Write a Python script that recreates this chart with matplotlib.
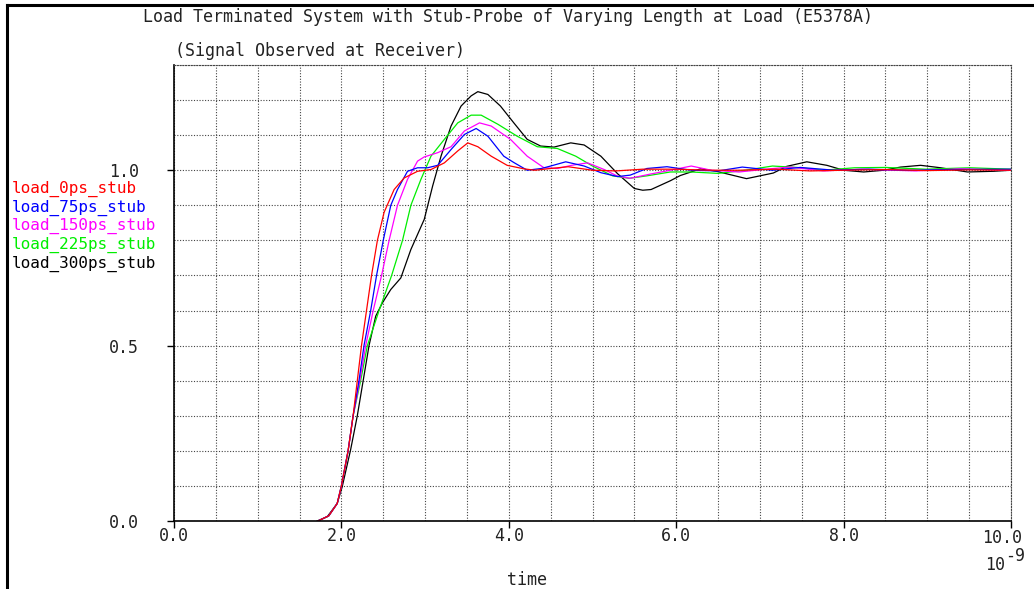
import numpy as np
import matplotlib.pyplot as plt
from matplotlib.ticker import MultipleLocator, FuncFormatter, FormatStrFormatter
from matplotlib.lines import Line2D

plt.rcParams['font.family'] = ['DejaVu Sans Mono']
plt.rcParams['font.size'] = 12

# time in ns (x 1e-9), voltage normalized
t_0ps = [1.72, 1.85, 1.95, 2.0, 2.08, 2.14, 2.19, 2.24, 2.30, 2.36, 2.43, 2.51, 2.63, 2.75,
         2.91, 3.07, 3.23, 3.39, 3.51, 3.63, 3.79, 3.98, 4.18, 4.31, 4.50, 4.71, 5.0, 5.28, 5.6,
         6.0, 6.4, 6.75, 7.2, 7.6, 8.0, 8.5, 9.0, 9.5, 10.0]
v_0ps = [0.0, 0.015, 0.05, 0.1, 0.2, 0.3, 0.4, 0.5, 0.6, 0.7, 0.8, 0.88, 0.945, 0.978,
         0.997, 1.002, 1.021, 1.055, 1.078, 1.067, 1.04, 1.014, 1.004, 1.0, 1.005, 1.01, 1.0, 0.998, 1.003,
         1.003, 1.0, 1.0, 1.003, 0.998, 1.0, 1.002, 0.999, 1.001, 1.0]

t_75ps = [1.72, 1.85, 1.95, 2.0, 2.08, 2.14, 2.21, 2.27, 2.35, 2.42, 2.50, 2.59, 2.67, 2.79,
          2.91, 3.03, 3.15, 3.31, 3.47, 3.61, 3.75, 3.94, 4.06, 4.22, 4.39, 4.50, 4.68, 4.9, 5.1,
          5.3, 5.45, 5.65, 5.89, 6.18, 6.5, 6.79, 7.15, 7.48, 7.89, 8.3, 8.78, 9.3, 10.0]
v_75ps = [0.0, 0.015, 0.05, 0.1, 0.2, 0.3, 0.4, 0.5, 0.6, 0.7, 0.8, 0.9, 0.945, 0.997,
          1.007, 1.007, 1.014, 1.059, 1.102, 1.119, 1.097, 1.04, 1.022, 1.0, 1.005, 1.012, 1.024, 1.012, 0.993,
          0.982, 0.986, 1.005, 1.01, 1.0, 0.998, 1.009, 1.0, 1.008, 1.0, 1.003, 1.0, 1.002, 1.003]

t_150ps = [1.72, 1.85, 1.95, 2.0, 2.08, 2.14, 2.22, 2.29, 2.38, 2.48, 2.57, 2.67, 2.79, 2.91,
           2.99, 3.15, 3.31, 3.47, 3.65, 3.79, 4.02, 4.22, 4.42, 4.58, 4.75, 4.94, 5.14, 5.3, 5.45,
           5.69, 5.93, 6.18, 6.42, 6.75, 7.07, 7.36, 7.76, 8.21, 8.86, 9.39, 10.0]
v_150ps = [0.0, 0.015, 0.05, 0.1, 0.2, 0.3, 0.4, 0.5, 0.6, 0.7, 0.8, 0.9, 0.974, 1.026,
           1.038, 1.05, 1.067, 1.112, 1.135, 1.126, 1.088, 1.04, 1.007, 1.005, 1.014, 1.021, 1.002, 0.983, 0.977,
           0.989, 1.0, 1.012, 1.0, 0.995, 1.003, 1.009, 0.998, 1.003, 0.998, 1.004, 1.0]

t_225ps = [1.72, 1.85, 1.95, 2.0, 2.08, 2.14, 2.23, 2.31, 2.45, 2.60, 2.73, 2.83, 2.95, 3.07,
           3.23, 3.39, 3.55, 3.67, 3.87, 4.1, 4.34, 4.58, 4.8, 5.0, 5.24, 5.44, 5.65, 5.93, 6.18,
           6.5, 6.83, 7.15, 7.44, 7.76, 8.13, 8.5, 8.98, 9.51, 10.0]
v_225ps = [0.0, 0.015, 0.05, 0.1, 0.2, 0.3, 0.4, 0.5, 0.6, 0.7, 0.8, 0.9, 0.974, 1.04,
           1.088, 1.135, 1.157, 1.157, 1.131, 1.097, 1.067, 1.062, 1.04, 1.012, 0.984, 0.977, 0.984, 0.995, 0.995,
           0.991, 1.0, 1.012, 1.008, 1.0, 1.007, 1.008, 1.003, 1.007, 1.003]

t_300ps = [1.71, 1.83, 1.95, 2.01, 2.11, 2.19, 2.26, 2.33, 2.41, 2.49, 2.59, 2.71, 2.83, 2.99,
           3.09, 3.19, 3.31, 3.43, 3.55, 3.63, 3.75, 3.90, 4.06, 4.22, 4.38, 4.54, 4.74, 4.90, 5.10,
           5.30, 5.50, 5.60, 5.70, 5.93, 6.05, 6.29, 6.48, 6.84, 7.16, 7.32, 7.56, 7.80, 8.0, 8.24,
           8.48, 8.68, 8.92, 9.16, 9.48, 9.79, 10.0]
v_300ps = [0.0, 0.012, 0.05, 0.098, 0.203, 0.3, 0.4, 0.5, 0.584, 0.622, 0.66, 0.693, 0.774, 0.86,
           0.955, 1.04, 1.126, 1.183, 1.212, 1.224, 1.216, 1.183, 1.135, 1.088, 1.069, 1.066, 1.078, 1.072, 1.04,
           0.99, 0.948, 0.943, 0.945, 0.97, 0.985, 1.004, 0.997, 0.976, 0.992, 1.011, 1.024, 1.014, 1.0, 0.995,
           1.0, 1.009, 1.014, 1.007, 0.995, 0.997, 1.0]

labels = ['load_0ps_stub', 'load_75ps_stub', 'load_150ps_stub', 'load_225ps_stub', 'load_300ps_stub']
colors = ['#ff0000', '#0000ff', '#ff00ff', '#00ee00', '#000000']
series = [(t_0ps, v_0ps), (t_75ps, v_75ps), (t_150ps, v_150ps), (t_225ps, v_225ps), (t_300ps, v_300ps)]
x_max = 10.0

W, H = 1034, 589
fig = plt.figure(figsize=(10.34, 5.89), dpi=100)
ax = fig.add_axes([174 / W, 1 - 521 / H, (1011 - 174) / W, (521 - 65) / H])

# draw black first, red last (on top)
for (t, v), c in reversed(list(zip(series, colors))):
    ax.plot(t, v, color=c, lw=0.9)

ax.set_xlim(0, x_max)
ax.set_ylim(0, 1.3)
ax.xaxis.set_major_locator(MultipleLocator(2))
ax.xaxis.set_minor_locator(MultipleLocator(0.5))
ax.yaxis.set_major_locator(MultipleLocator(0.5))
ax.yaxis.set_minor_locator(MultipleLocator(0.1))
# last x label is drawn separately, pulled inward like the reference
ax.xaxis.set_major_formatter(FuncFormatter(lambda v, p: '' if v >= x_max else '%.1f' % v))
ax.yaxis.set_major_formatter(FormatStrFormatter('%.1f'))
ax.grid(which='both', color='#444444', linestyle=(0, (1, 1.5)), lw=0.8)
ax.tick_params(which='minor', length=0)
ax.tick_params(which='major', length=5, width=1, color='black', labelsize=12, labelcolor='#222222')
ax.tick_params(axis='y', pad=20)
ax.tick_params(axis='x', pad=-0.5)
for s in ['top', 'right']:
    ax.spines[s].set_linestyle((0, (1, 1.5)))
    ax.spines[s].set_color('#444444')
    ax.spines[s].set_linewidth(0.8)
for s in ['left', 'bottom']:
    ax.spines[s].set_linewidth(1.2)

ax.annotate('%.1f' % x_max, xy=(x_max, 0), xycoords=('data', 'axes fraction'),
            xytext=(8, -5.5), textcoords='offset points', ha='right', va='top',
            color='#222222', fontsize=12, annotation_clip=False)

fig.text(143 / W, 1 - 17 / H, 'Load Terminated System with Stub-Probe of Varying Length at Load (E5378A)',
         ha='left', va='center', color='#222222')
fig.text(175 / W, 1 - 51 / H, '(Signal Observed at Receiver)', ha='left', va='center', color='#222222')
for i, (lab, c) in enumerate(zip(labels, colors)):
    fig.text(12 / W, 1 - (189 + 18.6 * i) / H, lab, ha='left', va='center', color=c, fontsize=11.5)
fig.text(527 / W, 1 - 580 / H, 'time', ha='center', va='center', color='#222222')
fig.text(985 / W, 1 - 565 / H, '10', ha='left', va='center', color='#222222')
fig.text(1005 / W, 1 - 556 / H, '-9', ha='left', va='center', color='#222222')

# window frame
fig.add_artist(Line2D([7 / W, 7 / W], [0, 1 - 5 / H], color='black', lw=2.2))
fig.add_artist(Line2D([7 / W, 1], [1 - 5 / H, 1 - 5 / H], color='black', lw=2.2))

fig.savefig('out.png', dpi=100)
